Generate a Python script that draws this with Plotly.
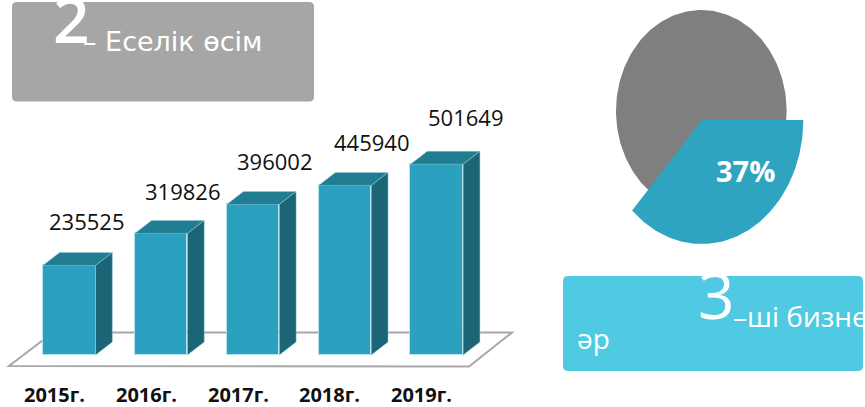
import math
import plotly.graph_objects as go

# ---------------- data ----------------
years = ["2015г.", "2016г.", "2017г.", "2018г.", "2019г."]
growth_values = [235525, 319826, 396002, 445940, 501649]
pie_share = 37  # percent highlighted in the pie
box_left_digit = "2"
box_left_text = "– Еселік өсім"
box_right_digit = "3"
box_right_text = "–ші бизне"
box_right_text2 = "әр"

# ---------------- layout constants (pixels) ----------------
W, H = 865, 407
BAR0_PX = 69.2
PITCH_PX = 91.9
BAR_W_PX = 52.7
DEPTH_X_PX = 16.8
DEPTH_Y_PX = 13.0
BASE_PX = 355.0
UNITS_PER_PX = 2630.0

x_lo = -BAR0_PX / PITCH_PX
x_hi = x_lo + W / PITCH_PX
y_lo = -(H - BASE_PX) * UNITS_PER_PX
y_hi = BASE_PX * UNITS_PER_PX
bw = BAR_W_PX / PITCH_PX
ddx = DEPTH_X_PX / PITCH_PX
ddy = DEPTH_Y_PX * UNITS_PER_PX

FRONT = "#2ba1bf"
TOP = "#217d91"
SIDE = "#1c6577"
PIE_GRAY = "#7f7f7f"
PIE_BLUE = "#2ea4c1"
BOX_GRAY = "#a6a6a6"
BOX_CYAN = "#50cae3"

label_xshift = [17, 21, 21, 27, 29]
label_yshift = [44, 42, 43, 43, 47]

fig = go.Figure()

xs = list(range(len(years)))

# front faces
fig.add_trace(go.Bar(
    x=xs, y=growth_values, width=bw,
    marker=dict(color=FRONT, line=dict(color="rgba(190,232,242,0.8)", width=1)),
    hoverinfo="skip", xaxis="x", yaxis="y",
))

# top and side faces (3D depth)
for i, v in zip(xs, growth_values):
    l, r = i - bw / 2, i + bw / 2
    fig.add_trace(go.Scatter(
        x=[l, r, r + ddx, l + ddx, l], y=[v, v, v + ddy, v + ddy, v],
        fill="toself", fillcolor=TOP, mode="lines",
        line=dict(color="rgba(150,210,225,0.6)", width=0.8),
        hoverinfo="skip", xaxis="x", yaxis="y",
    ))
    fig.add_trace(go.Scatter(
        x=[r, r + ddx, r + ddx, r, r], y=[0, ddy, v + ddy, v, 0],
        fill="toself", fillcolor=SIDE, mode="lines",
        line=dict(color="rgba(150,210,225,0.6)", width=0.8),
        hoverinfo="skip", xaxis="x", yaxis="y",
    ))

# pie (elliptical) drawn in pixel axes
gcx, gcy, grx, gry = 701.3, 111.0, 85.3, 101.0
n = 240
ex = [gcx + grx * math.cos(2 * math.pi * k / n) for k in range(n + 1)]
ey = [gcy + gry * math.sin(2 * math.pi * k / n) for k in range(n + 1)]
fig.add_trace(go.Scatter(x=ex, y=ey, fill="toself", fillcolor=PIE_GRAY, mode="lines",
                         line=dict(width=0, color=PIE_GRAY), hoverinfo="skip",
                         xaxis="x2", yaxis="y2"))

bcx, bcy, brx, bry = 701.7, 120.0, 101.6, 124.0
sweep = 2 * math.pi * pie_share / 100.0
m = 120
sx = [bcx] + [bcx + brx * math.cos(sweep * k / m) for k in range(m + 1)] + [bcx]
sy = [bcy] + [bcy + bry * math.sin(sweep * k / m) for k in range(m + 1)] + [bcy]
fig.add_trace(go.Scatter(x=sx, y=sy, fill="toself", fillcolor=PIE_BLUE, mode="lines",
                         line=dict(width=0, color=PIE_BLUE), hoverinfo="skip",
                         xaxis="x2", yaxis="y2"))


def rrect(x0, y0, x1, y1, r):
    return (f"M {x0 + r},{y0} L {x1 - r},{y0} Q {x1},{y0} {x1},{y0 + r} "
            f"L {x1},{y1 - r} Q {x1},{y1} {x1 - r},{y1} L {x0 + r},{y1} "
            f"Q {x0},{y1} {x0},{y1 - r} L {x0},{y0 + r} Q {x0},{y0} {x0 + r},{y0} Z")


shapes = [
    dict(type="path", xref="x2", yref="y2", path=rrect(12, 2, 314, 101.5, 5),
         fillcolor=BOX_GRAY, line=dict(width=0), layer="below"),
    dict(type="path", xref="x2", yref="y2", path=rrect(563, 276, 863, 371, 5),
         fillcolor=BOX_CYAN, line=dict(width=0), layer="below"),
    dict(type="path", xref="x2", yref="y2",
         path="M 9,366 L 469,366.5 L 512,332.5 L 53,332.5 Z",
         fillcolor="white", line=dict(color="#a8a8a8", width=2), layer="below"),
]

annotations = []
# value labels
for i, v in enumerate(growth_values):
    annotations.append(dict(
        x=i, y=v, xref="x", yref="y", text=str(v), showarrow=False,
        xanchor="center", yanchor="middle",
        xshift=label_xshift[i], yshift=label_yshift[i],
        font=dict(family="Open Sans", size=22, color="#111111"),
    ))
# category labels
for i, yr in enumerate(years):
    annotations.append(dict(
        x=i, y=394, xref="x", yref="y2", text=f"<b>{yr}</b>", showarrow=False,
        xanchor="center", yanchor="middle", xshift=-15,
        font=dict(family="Open Sans", size=20, color="#111111"),
    ))
# pie label
annotations.append(dict(
    x=bcx + 44, y=bcy + 50, xref="x2", yref="y2", text=f"<b>{pie_share}%</b>",
    showarrow=False, xanchor="center", yanchor="middle",
    font=dict(family="Open Sans", size=29, color="white"),
))
# gray box texts
annotations.append(dict(
    x=51, y=18, xref="x2", yref="y2", text=box_left_digit, showarrow=False,
    xanchor="left", yanchor="middle",
    font=dict(family="Open Sans", size=64, color="white", weight=600),
))
annotations.append(dict(
    x=81, y=41.5, xref="x2", yref="y2", text=box_left_text, showarrow=False,
    xanchor="left", yanchor="middle",
    font=dict(family="DejaVu Sans", size=27, color="white"),
))
# cyan box texts
annotations.append(dict(
    x=696, y=294, xref="x2", yref="y2", text=box_right_digit, showarrow=False,
    xanchor="left", yanchor="middle",
    font=dict(family="Open Sans", size=64, color="white", weight=500),
))
annotations.append(dict(
    x=731, y=316, xref="x2", yref="y2", text=box_right_text, showarrow=False,
    xanchor="left", yanchor="middle",
    font=dict(family="Open Sans", size=28, color="white"),
))
annotations.append(dict(
    x=575, y=338, xref="x2", yref="y2", text=box_right_text2, showarrow=False,
    xanchor="left", yanchor="middle",
    font=dict(family="Open Sans", size=28, color="white"),
))

fig.update_layout(
    width=W, height=H,
    margin=dict(l=0, r=0, t=0, b=0),
    paper_bgcolor="white", plot_bgcolor="white",
    showlegend=False,
    xaxis=dict(domain=[0, 1], range=[x_lo, x_hi], visible=False, fixedrange=True),
    yaxis=dict(domain=[0, 1], range=[y_lo, y_hi], visible=False, fixedrange=True),
    xaxis2=dict(overlaying="x", range=[0, W], visible=False, fixedrange=True),
    yaxis2=dict(overlaying="y", range=[H, 0], visible=False, fixedrange=True),
    shapes=shapes,
    annotations=annotations,
    bargap=0,
)

fig.write_html("out.html", config=dict(displayModeBar=False))
